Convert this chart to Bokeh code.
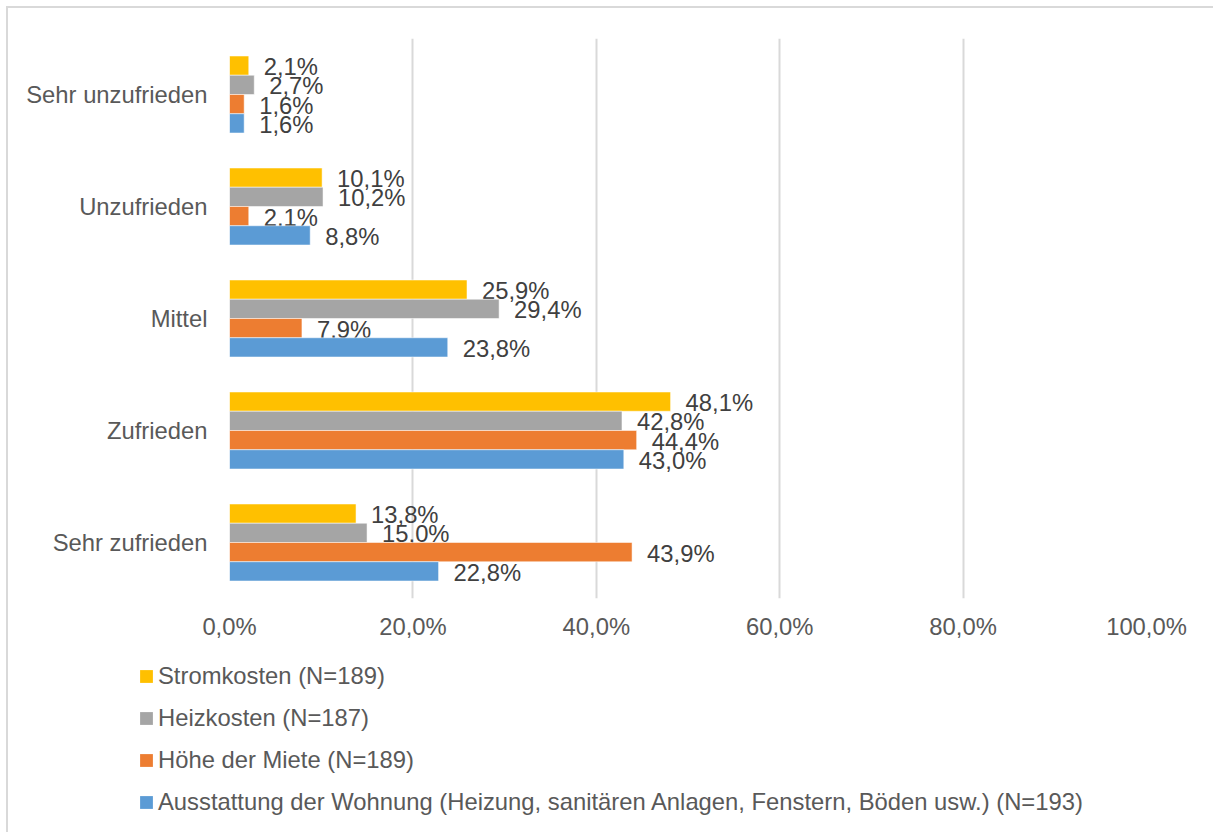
from bokeh.plotting import figure
from bokeh.layouts import column
from bokeh.models import (ColumnDataSource, FactorRange, FixedTicker, Legend, LegendItem)
from bokeh.transform import dodge
from bokeh.core.properties import value
from bokeh.embed import file_html
from bokeh.resources import INLINE

# ---- data ----
categories = ["Sehr zufrieden", "Zufrieden", "Mittel", "Unzufrieden", "Sehr unzufrieden"]
series_names = [
    "Stromkosten (N=189)",
    "Heizkosten (N=187)",
    "Höhe der Miete (N=189)",
    "Ausstattung der Wohnung (Heizung, sanitären Anlagen, Fenstern, Böden usw.) (N=193)",
]
strom = [13.8, 48.1, 25.9, 10.1, 2.1]
heiz = [15.0, 42.8, 29.4, 10.2, 2.7]
miete = [43.9, 44.4, 7.9, 2.1, 1.6]
ausstattung = [22.8, 43.0, 23.8, 8.8, 1.6]
x_ticks = [0, 20, 40, 60, 80, 100]
x_tick_labels = ["0,0%", "20,0%", "40,0%", "60,0%", "80,0%", "100,0%"]

colors = ["#FFC000", "#A5A5A5", "#ED7D31", "#5B9BD5"]
FONT = "Liberation Sans"
FS = "23.8px"

W, H1, H2 = 1205, 640, 184
p = figure(
    width=W, height=H1,
    y_range=FactorRange(factors=categories, range_padding=0, factor_padding=0),
    x_range=(0, 100),
    output_backend="svg", toolbar_location=None,
    min_border_left=221, min_border_right=67, min_border_top=30, min_border_bottom=50,
)
p.frame_align = False
p.outline_line_color = None
p.background_fill_color = "white"
p.border_fill_color = "white"

bh = 19.25 / 112.0
offsets = [1.5 * bh, 0.5 * bh, -0.5 * bh, -1.5 * bh]
all_series = [strom, heiz, miete, ausstattung]

for name, vals, col, off in zip(series_names, all_series, colors, offsets):
    src = ColumnDataSource(dict(
        cat=categories,
        val=vals,
        label=[f"{v:.1f}%".replace(".", ",") for v in vals],
    ))
    p.hbar(y=dodge("cat", off, range=p.y_range), right="val", left=0, height=bh,
           source=src, fill_color=col, line_color="white", line_width=1, line_alpha=0.5)
    p.text(x="val", y=dodge("cat", off, range=p.y_range), text="label", source=src,
           x_offset=15, y_offset=1, text_align="left", text_baseline="middle",
           text_font=value(FONT), text_font_size=FS, text_color="#404040")

# axes
p.xaxis.ticker = FixedTicker(ticks=x_ticks)
p.xaxis.major_label_overrides = {t: l for t, l in zip(x_ticks, x_tick_labels)}
for ax in (p.xaxis, p.yaxis):
    ax.axis_line_color = None
    ax.major_tick_line_color = None
    ax.minor_tick_line_color = None
    ax.major_tick_out = 0
    ax.major_tick_in = 0
    ax.major_label_text_font = FONT
    ax.major_label_text_font_size = FS
    ax.major_label_text_color = "#595959"
p.xaxis.major_label_standoff = 14
p.yaxis.major_label_standoff = 22

p.xgrid.grid_line_color = "#d9d9d9"
p.xgrid.grid_line_width = 2
p.ygrid.grid_line_color = None

# ---- legend in its own strip below ----
q = figure(width=W, height=H2, x_range=(0, 1), y_range=(0, 1),
           output_backend="svg", toolbar_location=None,
           min_border=0, x_axis_type=None, y_axis_type=None)
q.frame_align = False
q.outline_line_color = None
q.grid.visible = False
q.border_fill_color = "white"
items = []
for name, col in zip(series_names, colors):
    # swatch-only renderer, kept outside the visible range
    r = q.hbar(y=[-5.0], right=[0.5], left=0, height=0.1, fill_color=col,
               line_color=None)
    items.append(LegendItem(label=name, renderers=[r]))

row_h = 28
legend = Legend(
    items=items,
    location=(130, 16),
    orientation="vertical",
    glyph_width=16, glyph_height=16,
    label_height=row_h,
    label_standoff=4,
    spacing=int(round(41.7 - row_h)),
    padding=0, margin=0,
    border_line_color=None,
    background_fill_alpha=0,
    label_text_font=FONT,
    label_text_font_size=FS,
    label_text_color="#595959",
)
q.add_layout(legend, "center")

layout = column(p, q, spacing=0)
layout.margin = (6, 0, 0, 6)
layout.styles = {"border-top": "2px solid #d9d9d9", "border-left": "2px solid #d9d9d9"}

open("out.html", "w").write(file_html(layout, INLINE))
